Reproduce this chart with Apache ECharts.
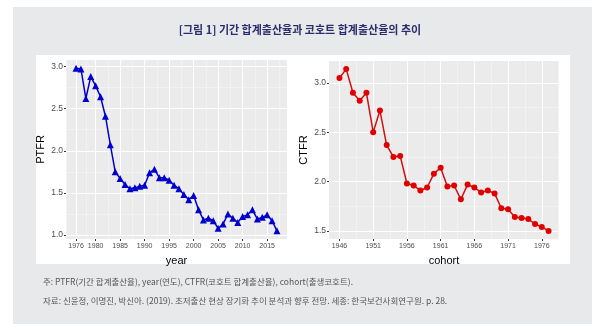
<!DOCTYPE html>
<html><head><meta charset="utf-8">
<script src="https://cdn.jsdelivr.net/npm/echarts@6/dist/echarts.min.js"></script>
<style>html,body{margin:0;padding:0;background:#fff}#c{width:600px;height:332px}</style>
</head><body><div id="c"></div>
<script>
// ---- data ----
const years = [1976,1977,1978,1979,1980,1981,1982,1983,1984,1985,1986,1987,1988,1989,1990,1991,1992,1993,1994,1995,1996,1997,1998,1999,2000,2001,2002,2003,2004,2005,2006,2007,2008,2009,2010,2011,2012,2013,2014,2015,2016,2017];
const ptfr = [2.98,2.97,2.62,2.88,2.77,2.64,2.41,2.07,1.75,1.67,1.60,1.55,1.56,1.58,1.59,1.74,1.78,1.68,1.68,1.65,1.59,1.55,1.48,1.42,1.47,1.30,1.18,1.20,1.17,1.08,1.13,1.25,1.20,1.15,1.22,1.24,1.30,1.19,1.21,1.24,1.17,1.05];
const cohorts = [1946,1947,1948,1949,1950,1951,1952,1953,1954,1955,1956,1957,1958,1959,1960,1961,1962,1963,1964,1965,1966,1967,1968,1969,1970,1971,1972,1973,1974,1975,1976,1977];
const ctfr = [3.05,3.14,2.90,2.82,2.90,2.50,2.72,2.37,2.25,2.26,1.98,1.96,1.91,1.94,2.08,2.14,1.95,1.96,1.82,1.97,1.94,1.89,1.91,1.88,1.73,1.72,1.64,1.63,1.62,1.57,1.54,1.50];
const yearTicks = [1976,1980,1985,1990,1995,2000,2005,2010,2015];
const yearMinor = [1974,1978,1982.5,1987.5,1992.5,1997.5,2002.5,2007.5,2012.5,2017.5];
const ptfrTicks = [1.0,1.5,2.0,2.5,3.0];
const ptfrMinor = [1.25,1.75,2.25,2.75];
const cohortTicks = [1946,1951,1956,1961,1966,1971,1976];
const cohortMinor = [1948.5,1953.5,1958.5,1963.5,1968.5,1973.5,1978.5];
const ctfrTicks = [1.5,2.0,2.5,3.0];
const ctfrMinor = [1.75,2.25,2.75];
const titleText = '[그림 1] 기간 합계출산율과 코호트 합계출산율의 추이';
const note1 = '주: PTFR(기간 합계출산율), year(연도), CTFR(코호트 합계출산율), cohort(출생코호트).';
const note2 = '자료: 신윤정, 이명진, 박신아. (2019). 초저출산 현상 장기화 추이 분석과 향후 전망. 세종: 한국보건사회연구원. p. 28.';

function ext(arr, f){const mn=Math.min(...arr),mx=Math.max(...arr),d=(mx-mn)*f;return [mn-d,mx+d];}
const [x0min,x0max]=ext(years,0.05), [y0min,y0max]=ext(ptfr,0.05);
const [x1min,x1max]=ext(cohorts,0.05), [y1min,y1max]=ext(ctfr,0.05);

const FONT='"Liberation Sans", Arial, sans-serif';
function majorAxis(gi,min,max,ticks,isY,name,extra){
  return Object.assign({
    type:'value', gridIndex:gi, min:min, max:max,
    axisLine:{show:false},
    axisTick:{show:true,length:2,lineStyle:{color:'#333',width:1},customValues:ticks},
    axisLabel:{customValues:ticks,margin:isY?3:4,color:'#4d4d4d',fontFamily:FONT,fontSize:isY?8.5:7,
      formatter:isY?(v=>v.toFixed(1)):(v=>String(v))},
    splitLine:{show:true,lineStyle:{color:'#ffffff',width:1}},
    name:name, nameLocation:'middle',
    nameTextStyle:{color:'#000',fontSize:11,fontFamily:FONT}
  },extra||{});
}
function minorAxis(gi,min,max,vals){
  return {type:'value',gridIndex:gi,min:min,max:max,show:true,
    axisLine:{show:false},axisTick:{show:false,customValues:vals},
    axisLabel:{show:false,customValues:vals},
    splitLine:{show:true,lineStyle:{color:'#f7f7f7',width:0.6}}};
}

const chart = echarts.init(document.getElementById('c'),null,{renderer:'canvas'});
chart.setOption({
  animation:false,
  backgroundColor:'#ffffff',
  graphic:[
    {type:'rect',z:-10,shape:{x:13,y:7,width:579,height:317},style:{fill:'#e8e9eb'}},
    {type:'rect',z:-9,shape:{x:36,y:55,width:534,height:209},style:{fill:'#ffffff'}},
    {type:'text',z:10,left:'center',top:24,style:{text:titleText,fill:'#2a2d6b',font:'bold 11px "Noto Sans CJK KR"'}},
    {type:'text',z:10,left:43,top:278,style:{text:note1,fill:'#555555',font:'8.5px "Noto Sans CJK KR"'}},
    {type:'text',z:10,left:43,top:297,style:{text:note2,fill:'#555555',font:'8.5px "Noto Sans CJK KR"'}}
  ],
  grid:[
    {left:66,right:313,top:60,bottom:93,show:true,backgroundColor:'#ebebeb',borderWidth:0},
    {left:329,right:41,top:61,bottom:93,show:true,backgroundColor:'#ebebeb',borderWidth:0}
  ],
  xAxis:[
    majorAxis(0,x0min,x0max,yearTicks,false,'year',{nameGap:16}),
    majorAxis(1,x1min,x1max,cohortTicks,false,'cohort',{nameGap:16}),
    minorAxis(0,x0min,x0max,yearMinor),
    minorAxis(1,x1min,x1max,cohortMinor)
  ],
  yAxis:[
    majorAxis(0,y0min,y0max,ptfrTicks,true,'PTFR',{nameGap:20}),
    majorAxis(1,y1min,y1max,ctfrTicks,true,'CTFR',{nameGap:20}),
    minorAxis(0,y0min,y0max,ptfrMinor),
    minorAxis(1,y1min,y1max,ctfrMinor)
  ],
  series:[
    {type:'line',xAxisIndex:0,yAxisIndex:0,z:5,data:years.map((y,i)=>[y,ptfr[i]]),
     symbol:'triangle',symbolSize:7,showSymbol:true,color:'#0000cd',
     itemStyle:{color:'#0000cd'},lineStyle:{color:'#0000cd',width:1.5}},
    {type:'line',xAxisIndex:1,yAxisIndex:1,z:5,data:cohorts.map((y,i)=>[y,ctfr[i]]),
     symbol:'circle',symbolSize:6,showSymbol:true,color:'#e00000',
     itemStyle:{color:'#e00000'},lineStyle:{color:'#d01010',width:1.5}}
  ]
});
</script></body></html>
